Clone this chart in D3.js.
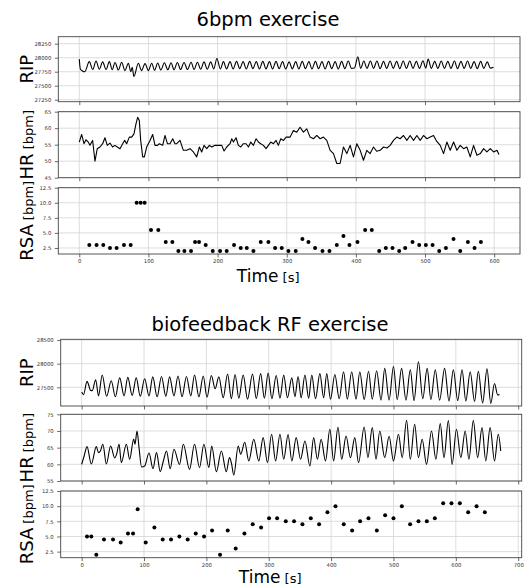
<!DOCTYPE html>
<html>
<head>
<meta charset="utf-8">
<script src="https://cdnjs.cloudflare.com/ajax/libs/d3/7.8.5/d3.min.js"></script>
<style>
body{margin:0;background:#fff;}
text{font-family:"DejaVu Sans",sans-serif;}
</style>
</head>
<body>
<script>
// ---- 6bpm exercise: [time s, value] ----
var ripA=[[0,27975],[1.5,27800],[5,27760],[8,27750],[14.5,27930],[19.5,27790],[24.2,27940],[29,27795],[33.8,27925],[38.7,27790],
[43.5,27930],[47.6,27785],[51.7,27915],[56.5,27780],[61.3,27920],[66,27770],[71,27900],[74.5,27750],[76.5,27830],[79,27665],
[85.4,27900],[90,27770],[95.1,27895],[100,27770],[104.7,27900],[109,27775],[113.4,27905],[118,27780],[123.1,27910],[128,27785],
[132.7,27910],[137,27785],[141.9,27915],[146.5,27790],[151.5,27915],[156.5,27790],[161.7,27920],[166,27790],[170.8,27920],[175.5,27795],
[180.5,27925],[185,27795],[190.1,27925],[194.5,27800],[199,27985],[204,27800],[208.5,27930],[213,27800],[218,27930],[222.5,27800],
[227.5,27935],[232,27805],[237,27930],[241.5,27800],[246.5,27935],[251,27805],[256,27930],[260.5,27800],[265.5,27935],[270,27800],
[275,27930],[279.5,27800],[284.5,27935],[289,27805],[294,27930],[298.5,27800],[303.5,27925],[308,27800],[313,27930],[317.5,27800],
[322.5,27935],[327,27805],[332,27930],[336.5,27800],[341.5,27935],[346,27805],[351,27930],[355.5,27800],[360.5,27935],[365,27805],
[370,27930],[374.5,27800],[379.5,27935],[384,27805],[389,27940],[393.5,27810],[398,27815],[402.8,28015],[407,27810],[411.5,27940],
[416,27810],[421,27940],[425.5,27810],[430.5,27940],[435,27805],[440,27935],[444.5,27810],[449.5,27940],[454,27810],[459,27935],
[463.5,27805],[468.5,27940],[473,27810],[478,27940],[482.5,27810],[487.5,27935],[492,27810],[497,27945],[501,27815],[504.5,27975],
[509,27810],[514,27935],[518.5,27810],[523.5,27940],[528,27810],[533,27935],[537.5,27810],[542.5,27940],[547,27805],[552,27935],
[556.5,27810],[561.5,27940],[566,27810],[571,27930],[575.5,27805],[580.5,27935],[585,27810],[590,27925],[594.5,27815],[599,27830]];

var hrA=[[0,55.8],[3.4,58.1],[6.8,55.3],[9.6,56.5],[13,55.8],[15.4,54.8],[19.3,56.3],[22.7,50],[26,53.8],[29.9,54.3],
[33.8,55.3],[37.1,57.1],[40.5,54.8],[44.4,55.5],[48.2,54.3],[51.6,54.8],[55,54.3],[58.9,53.8],[62.7,55.3],[65.6,56.3],
[68.5,55.3],[72.4,57.3],[75.7,57.3],[79.1,58.3],[82,61.3],[84.4,63.3],[86.8,62.3],[88.8,56.3],[91.7,51.3],[94.1,51.3],
[97.4,54.3],[102.3,56.3],[106.1,58.1],[109.5,54.8],[112.9,54.8],[115.8,55.3],[120.6,54.8],[124,57.8],[127.4,55.3],[131.2,55.3],
[135.1,56.8],[138.4,55.3],[140.9,55.3],[145.7,56.3],[150.5,53.3],[155.3,53.3],[160.2,53.8],[165,52.8],[169.8,51.3],[173.7,54.3],
[177,52.8],[180.4,54.8],[184.3,53.8],[188.1,54.8],[191.5,54.3],[196.3,54.8],[201.2,54.8],[206,54.8],[209.4,53.1],[213.2,54.3],
[218,55.3],[220.5,56.8],[222.9,55.8],[226.7,57.1],[230.1,54.8],[233.5,54.3],[237.3,55.3],[241.2,55.3],[244.6,54.3],[248,55.8],
[251.8,54.8],[255.7,56.8],[259,55.8],[262.4,55.3],[266.3,54.8],[270.1,53.8],[273.5,54.8],[276.9,55.8],[280.7,55.3],[284.6,56.3],
[287.9,54.8],[291.4,56.8],[295.2,56.3],[299.1,57.3],[304.9,57.3],[309.7,59.3],[314.5,58.8],[319.3,60.3],[324.2,58.8],[329,59.8],
[333.8,57.3],[338.6,56.8],[343.5,57.8],[348.3,56.8],[353.1,57.3],[357.9,56.3],[362.8,53.3],[367.6,52.3],[372.4,49.3],[377.2,49.3],
[382,54.3],[386.9,52.3],[391.7,54.8],[396.5,51.3],[401.4,55.3],[406.2,53.3],[411,50.3],[415.8,53.3],[420.6,52.3],[425.5,54.3],
[430,53],[435.1,53.3],[440,54.3],[445,54],[449.6,54.8],[454.4,56.3],[459.2,57.3],[464,56.8],[468.9,57.8],[473.7,56.3],
[478.5,57.8],[483.4,56.3],[488.2,57.8],[493,56.3],[497.8,57.8],[502.7,56.8],[507.5,57.3],[512.3,57.8],[517,56],[522,54.8],
[526.8,52.3],[531.6,55.8],[536.4,53.3],[541.3,55.8],[546.1,53.3],[550.9,54.8],[555.7,53.8],[560.5,54.3],[565.4,51.3],[570.2,54.8],
[575,51.8],[579.9,52.3],[584.7,53.8],[589.5,52.8],[594.3,53.8],[599.2,52.8],[604,53.3],[607,52]];

var rsaA=[[14.5,3],[25,3],[34.7,3],[44.4,2.5],[54,2.5],[64.6,3],[74.3,3],[83,10],[88.8,10],[94.5,10],
[103.7,5.5],[114.3,5.5],[125,3.5],[134.6,3.5],[143.3,2],[152,2],[161.6,2],[167.4,3.5],[173.2,3.5],[182.8,3],
[193,2],[203.6,2],[213.2,2],[223.8,3],[233.5,2.5],[242.2,2.5],[251.8,2],[262.4,3.5],[273.5,3.5],[283.2,2.5],
[292.8,2.5],[302.5,2],[313,2],[322.7,4],[331.4,3.5],[341,2.5],[351.7,2],[361.8,2],[372.4,3],[382,4.5],
[390.7,3],[402.3,3.5],[413.4,5.5],[423,5.5],[433.7,2],[443.3,2.5],[453,2.5],[462.6,2],[471.3,2.5],[481.9,3.5],
[491.6,3],[501.2,3],[510.9,3],[520.5,2],[530.2,2.5],[541.2,4],[550.9,2],[562,3.5],[571.6,2.5],[580.8,3.5]];

// ---- biofeedback RF exercise ----
var ripB=[[0,27400],[3,27345],[8.6,27625],[11,27560],[14,27440],[17,27430],[22.5,27660],[27,27320],[33,27760],[40,27310],
[47.5,27640],[54,27300],[61,27700],[68,27320],[74,27710],[81,27330],[87.5,27700],[94,27310],[101,27680],[108,27320],
[114,27720],[121,27300],[128,27730],[135,27310],[141,27720],[148,27320],[154.5,27740],[161,27300],[168,27730],[175,27320],
[181,27760],[188,27300],[195,27740],[201,27290],[208,27750],[214,27470],[220,27720],[227,27280],[234,27780],[240,27260],
[246,27770],[252,27270],[259,27760],[266,27250],[274,27780],[280,27260],[287,27790],[293,27270],[299,27800],[305,27260],
[312,27750],[318,27270],[324,27760],[330,27280],[337,27700],[342,27300],[347,27730],[352,27280],[358,27760],[364,27270],
[369,27760],[375,27260],[382,27790],[388,27280],[393,27790],[399,27250],[406,27770],[413,27260],[420,27830],[426,27250],
[433,27830],[440,27250],[446,27830],[453,27240],[460,27840],[466,27250],[473,27850],[480,27230],[486,27900],[493,27230],
[500,27940],[506,27240],[513,27900],[520,27230],[527,27870],[533,27220],[540,28040],[547,27260],[554,27900],[560,27240],
[567,27870],[574,27230],[582,27900],[589,27210],[596,27870],[603,27220],[610,27870],[616,27210],[623,27830],[630,27200],
[636,27840],[643,27170],[650,27890],[656,27160],[662,27580],[667,27340],[670,27350]];

var hrB=[[0,60],[4,62.5],[8.6,65.3],[15.5,60.1],[23.5,65.3],[27,63.5],[30,64],[34,66],[39.6,60.1],[46.5,65.5],
[53,61.9],[56,63],[60,66],[63.6,60.5],[71.7,66],[77,61.5],[83.4,67.6],[85.5,66],[88.8,70],[92,65],
[96,59.2],[101,59.5],[108,63.4],[114.4,58.7],[120,63.5],[126,57.8],[131,61],[136,64],[142,58.7],[148,64.5],
[157,60],[163,66],[173,58.5],[181,66],[189,59],[196,66],[204,59],[208.5,65.5],[216,57.8],[224,64],
[232,57.8],[237,62],[240,60.5],[244,56.8],[251,65.5],[255,63],[261.5,66.6],[268,61],[276,67.5],[284,61],
[291,68],[298,60.5],[304.5,69],[311,61],[318,69],[324,61.5],[331,68.9],[337,61],[344,68],[351,61.5],
[358,67],[366,59.5],[372,68],[378,61.5],[384,67.5],[391,61],[398,70.5],[404,61],[411,71.1],[417,61.5],
[424,68.5],[431,62],[438,68],[444,60.5],[453,71.2],[459,62],[466,71],[472,61.5],[478,70],[486,62],
[493,68.4],[500,61],[508,69],[514,62],[521,73.2],[527,61.5],[534,72],[540,62],[546,67.5],[553,60],
[561,70],[568,61.5],[575,72.2],[581,62],[588,73.1],[594,60],[601,70.5],[608,62],[615,70],[621,61.5],
[628,73.1],[635,62],[642,71],[648,61],[655,71],[662,61],[668,69],[672,64]];

var rsaB=[[8.6,5],[15.5,5],[23.5,2],[35.8,4.5],[50.3,4.5],[62.6,4],[74.3,5.5],[82.4,5.5],[89.8,9.5],[102.7,4],
[116.6,6.5],[130,4.5],[143.3,4.5],[156.7,5],[170,4.5],[182.9,5.5],[196.3,5],[209.1,6],[221.9,2],[234.2,6],
[247,3],[261,5.5],[274.3,7],[287.7,6.5],[300.5,8],[313.4,8],[327.3,7.5],[340.6,7.5],[354,7],[367.4,8],
[380.7,7],[394.1,9],[407,10],[420.3,7],[433.7,6],[446.5,7.5],[459.9,8],[473.3,6],[486.6,8.5],[500,8],
[513.4,10],[526.7,7],[540.1,7.5],[553.5,7.5],[566.3,8],[579.7,10.5],[593,10.5],[606.4,10.5],[619.8,9],[633.2,10],[646.5,9]];

// ---- ticks ----
var timeTicksA=[0,100,200,300,400,500,600];
var timeTicksB=[0,100,200,300,400,500,600,700];
var ripTicksA=[27250,27500,27750,28000,28250];
var ripTicksB=[27500,28000,28500];
var hrTicksA=[45,50,55,60,65];
var hrTicksB=[55,60,65,70,75];
var rsaTicks=[2.5,5,7.5,10,12.5];

var svg=d3.select('body').append('svg').attr('width',525).attr('height',588);

var figs=[
  {title:'6bpm exercise',titleX:268,titleY:26,left:58.3,right:520,xDomain:[-30.35,637.35],xTicks:timeTicksA,xlabelY:282,
   panels:[
     {top:36.7,bottom:101.7,yDomain:[27215,28375],yTicks:ripTicksA,fmt:d3.format('d'),label:'RIP',unit:'',data:ripA,kind:'smooth'},
     {top:111.7,bottom:177.7,yDomain:[45,65],yTicks:hrTicksA,fmt:d3.format('d'),label:'HR',unit:'[bpm]',data:hrA,kind:'line'},
     {top:187.7,bottom:254,yDomain:[1.5,12.5],yTicks:rsaTicks,fmt:d3.format('.1f'),label:'RSA',unit:'[bpm]',data:rsaA,kind:'dots'}]},
  {title:'biofeedback RF exercise',titleX:270,titleY:331,left:60.7,right:521.7,xDomain:[-33.6,705.6],xTicks:timeTicksB,xlabelY:583,
   panels:[
     {top:339.3,bottom:406,yDomain:[27105,28515],yTicks:ripTicksB,fmt:d3.format('d'),label:'RIP',unit:'',data:ripB,kind:'smooth'},
     {top:414.3,bottom:481,yDomain:[55,75],yTicks:hrTicksB,fmt:d3.format('d'),label:'HR',unit:'[bpm]',data:hrB,kind:'smooth'},
     {top:491,bottom:557.7,yDomain:[1.5,12.5],yTicks:rsaTicks,fmt:d3.format('.1f'),label:'RSA',unit:'[bpm]',data:rsaB,kind:'dots'}]}
];

figs.forEach(function(f){
  var x=d3.scaleLinear().domain(f.xDomain).range([f.left,f.right]);
  svg.append('text').attr('x',f.titleX).attr('y',f.titleY).attr('text-anchor','middle')
     .attr('font-size',19.5).attr('fill','#000').text(f.title);

  f.panels.forEach(function(p,i){
    var y=d3.scaleLinear().domain(p.yDomain).range([p.bottom,p.top]);
    var g=svg.append('g');
    var last=i==f.panels.length-1;

    // grid
    g.selectAll('line.gx').data(f.xTicks).enter().append('line').attr('class','gx')
      .attr('x1',d=>x(d)).attr('x2',d=>x(d)).attr('y1',p.top).attr('y2',p.bottom)
      .attr('stroke','#d4d4d4').attr('stroke-width',0.8);
    g.selectAll('line.gy').data(p.yTicks).enter().append('line').attr('class','gy')
      .attr('x1',f.left).attr('x2',f.right).attr('y1',d=>y(d)).attr('y2',d=>y(d))
      .attr('stroke','#d4d4d4').attr('stroke-width',0.8);

    // marks
    if(p.kind=='dots'){
      g.selectAll('circle').data(p.data).enter().append('circle')
        .attr('cx',d=>x(d[0])).attr('cy',d=>y(d[1])).attr('r',2).attr('fill','#000');
    } else {
      var line=d3.line().x(d=>x(d[0])).y(d=>y(d[1]))
        .curve(p.kind=='smooth'?d3.curveMonotoneX:d3.curveLinear);
      g.append('path').datum(p.data).attr('d',line)
        .attr('fill','none').attr('stroke','#000').attr('stroke-width',1.1).attr('stroke-linejoin','round');
    }

    // frame
    g.append('rect').attr('x',f.left).attr('y',p.top).attr('width',f.right-f.left).attr('height',p.bottom-p.top)
      .attr('fill','none').attr('stroke','#444').attr('stroke-width',0.9);

    // axes
    var ay=g.append('g').attr('transform','translate('+f.left+',0)')
      .call(d3.axisLeft(y).tickValues(p.yTicks).tickSize(3.5).tickPadding(3.5).tickFormat(p.fmt));
    var ax=g.append('g').attr('transform','translate(0,'+p.bottom+')')
      .call(d3.axisBottom(x).tickValues(f.xTicks).tickSize(3.5).tickPadding(2).tickFormat(last?d3.format('d'):''));
    [ay,ax].forEach(function(a){
      a.select('.domain').remove();
      a.selectAll('line').attr('stroke','#444').attr('stroke-width',0.8);
      a.selectAll('text').attr('font-size',5.3).attr('fill','#333').attr('font-family','DejaVu Sans');
    });

    // y label
    var cy=(p.top+p.bottom)/2;
    var t=svg.append('text').attr('transform','translate(33,'+cy+') rotate(-90)')
      .attr('text-anchor','middle').attr('fill','#000');
    t.append('tspan').attr('font-size',18).text(p.label);
    if(p.unit) t.append('tspan').attr('font-size',13).text(' '+p.unit);
  });

  var xl=svg.append('text').attr('x',(f.left+f.right)/2-21).attr('y',f.xlabelY).attr('text-anchor','middle').attr('fill','#000');
  xl.append('tspan').attr('font-size',17).text('Time');
  xl.append('tspan').attr('font-size',13).text(' [s]');
});
</script>
</body>
</html>
